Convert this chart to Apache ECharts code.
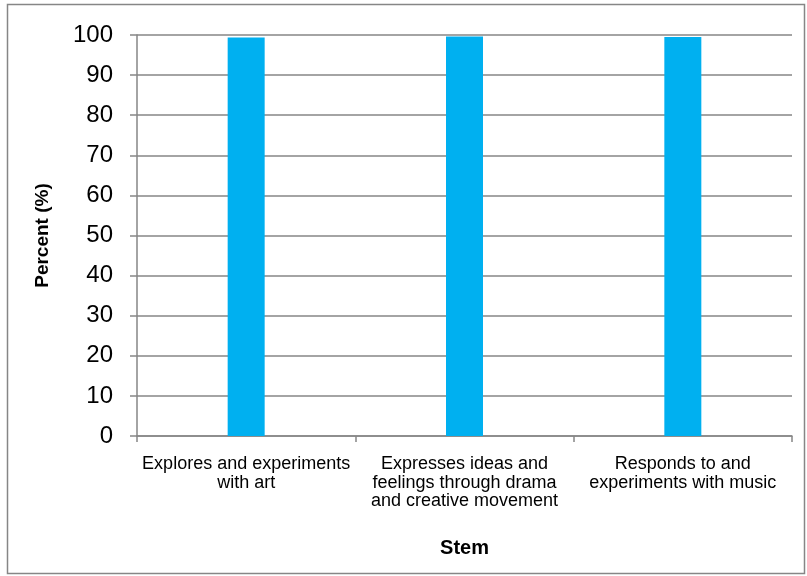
<!DOCTYPE html>
<html>
<head>
<meta charset="utf-8">
<script src="https://cdn.jsdelivr.net/npm/echarts@6/dist/echarts.min.js"></script>
<style>
  html, body { margin: 0; padding: 0; background: #fff; }
  #chart { width: 807px; height: 576px; }
</style>
</head>
<body>
<div id="chart"></div>
<script>
// Categories along the x axis (line breaks as shown under each bar)
const categories = [
  'Explores and experiments\nwith art',
  'Expresses ideas and\nfeelings through drama\nand creative movement',
  'Responds to and\nexperiments with music'
];
// Percent of children for each stem
const percentValues = [99.4, 99.6, 99.5];
// Y axis range and step
const yMin = 0;
const yMax = 100;
const yStep = 10;

const axisGray = '#868686';
const fontFam = '"Liberation Sans", Arial, sans-serif';

const chart = echarts.init(document.getElementById('chart'), null, { renderer: 'canvas' });

chart.setOption({
  animation: false,
  backgroundColor: '#ffffff',
  graphic: [{
    type: 'rect',
    shape: { x: 7.5, y: 4.5, width: 797, height: 569 },
    style: { fill: 'none', stroke: axisGray, lineWidth: 1.5 },
    silent: true,
    z: -1
  }],
  grid: { left: 137, right: 15, top: 35, bottom: 140, containLabel: false },
  xAxis: {
    type: 'category',
    data: categories,
    name: 'Stem',
    nameLocation: 'middle',
    nameGap: 102,
    nameTextStyle: { fontFamily: fontFam, fontWeight: 'bold', fontSize: 20, color: '#000' },
    axisLine: { show: true, lineStyle: { color: axisGray, width: 1.5 } },
    axisTick: { show: true, alignWithLabel: false, length: 6, lineStyle: { color: axisGray, width: 1.5 } },
    axisLabel: {
      interval: 0,
      margin: 19,
      fontFamily: fontFam,
      fontSize: 18,
      lineHeight: 18.5,
      color: '#000',
      align: 'center'
    },
    splitLine: { show: false }
  },
  yAxis: {
    type: 'value',
    min: yMin,
    max: yMax,
    interval: yStep,
    name: 'Percent (%)',
    nameLocation: 'middle',
    nameRotate: 90,
    nameGap: 85,
    nameTextStyle: { fontFamily: fontFam, fontWeight: 'bold', fontSize: 19, color: '#000' },
    axisLine: { show: true, lineStyle: { color: axisGray, width: 1.5 } },
    axisTick: { show: true, inside: false, length: 7, lineStyle: { color: axisGray, width: 1.5 } },
    axisLabel: {
      margin: 24,
      fontFamily: fontFam,
      fontSize: 24,
      color: '#000'
    },
    splitLine: { show: true, lineStyle: { color: axisGray, width: 1.5 } }
  },
  series: [{
    type: 'bar',
    data: percentValues,
    barWidth: 37,
    itemStyle: { color: '#00B0F0' },
    label: { show: false }
  }]
});
</script>
</body>
</html>
